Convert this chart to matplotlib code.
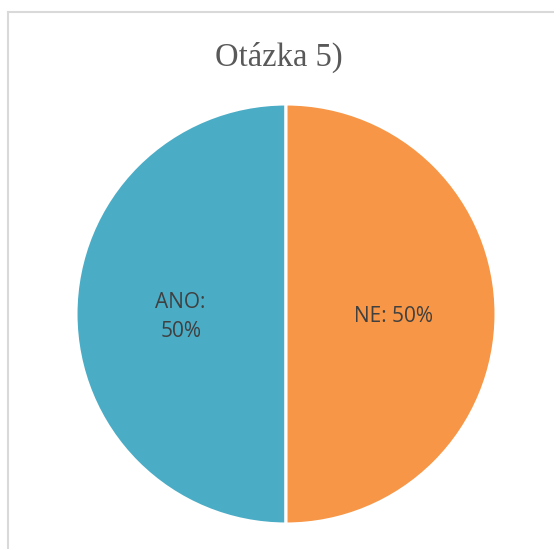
import matplotlib
matplotlib.use("Agg")
import matplotlib.pyplot as plt
from matplotlib.lines import Line2D

title = "Otázka 5)"
categories = ["ANO", "NE"]
values = [50, 50]
colors = ["#4BACC6", "#F79646"]

W, H = 554, 549
fig = plt.figure(figsize=(W/100, H/100), dpi=100)

# frame (top and left edges visible)
fig.add_artist(Line2D([8/W, 1], [1-12/H, 1-12/H], color="#D9D9D9", lw=1.5, transform=fig.transFigure))
fig.add_artist(Line2D([8/W, 8/W], [0, 1-12/H], color="#D9D9D9", lw=1.5, transform=fig.transFigure))

cx, cy, r = 286, 314, 210
ax = fig.add_axes([(cx-r)/W, 1-(cy+r)/H, 2*r/W, 2*r/H])
wedges, _ = ax.pie(values, colors=colors, startangle=90, counterclock=True,
                   wedgeprops=dict(edgecolor="white", linewidth=2.2), radius=1)
ax.set_xlim(-1, 1); ax.set_ylim(-1, 1)
ax.set_aspect("equal")
ax.axis("off")

lab_font = dict(fontfamily="Open Sans", fontsize=15, color="#404040")
ax.text(-0.505, 0.029, f"{categories[0]}:", ha="center", va="baseline", **lab_font)
ax.text(-0.50, -0.109, f"{values[0]}%", ha="center", va="baseline", **lab_font)
ax.text(0.51, -0.038, f"{categories[1]}: {values[1]}%", ha="center", va="baseline", **lab_font)

fig.text(278.5/W, 1-66/H, title, ha="center", va="baseline", fontfamily="Liberation Serif",
         fontsize=23.5, color="#595959")

fig.savefig("out.png", dpi=100, facecolor="white")
